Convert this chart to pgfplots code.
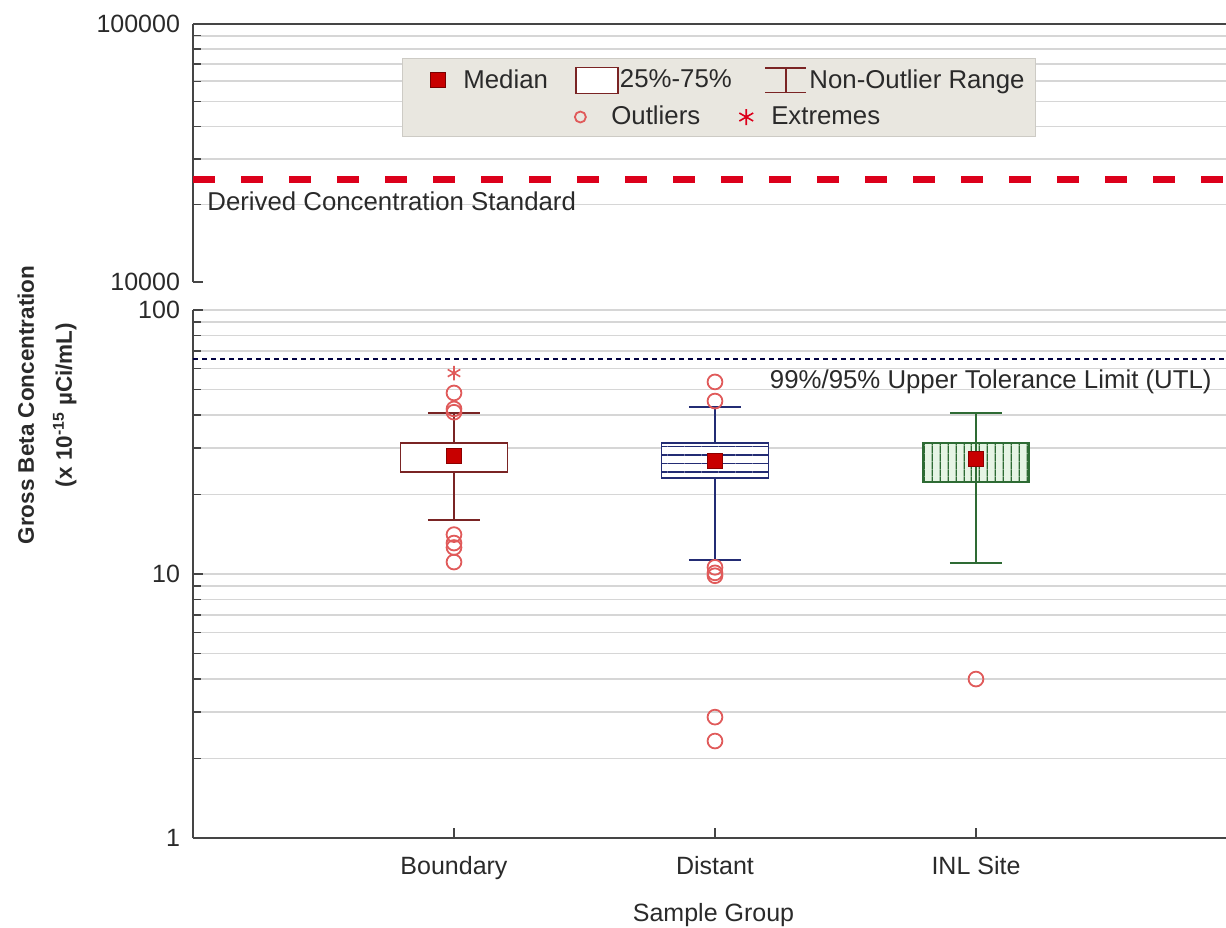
\documentclass[border=0pt]{standalone}
\usepackage{pgfplots}
\pgfplotsset{compat=1.18}
\usetikzlibrary{patterns.meta}
\usepackage{fontspec}
\setmainfont{Liberation Sans}
\definecolor{bnd}{HTML}{7A2424}
\definecolor{dst}{HTML}{232C74}
\definecolor{inl}{HTML}{2E6B34}
\definecolor{inlfill}{HTML}{E6F4E4}
\definecolor{outl}{HTML}{E05A5A}
\definecolor{med}{HTML}{C80000}
\definecolor{dcs}{HTML}{DC001B}
\definecolor{gridc}{HTML}{D6D6D6}
\definecolor{legbg}{HTML}{E9E7E0}
\definecolor{axc}{HTML}{454545}
\definecolor{txt}{HTML}{2A2A2A}
\pgfplotsset{
  myaxisstyle/.style={
    scale only axis, width=516.5pt,
    xmin=0, xmax=3.958,
    axis line style={line width=1.2pt, color=axc},
    tick align=inside, major tick length=5pt, minor tick length=4pt,
    tick style={axc, line width=0.7pt},
    grid style={gridc, line width=0.75pt},
    ticklabel style={font=\fontsize{12.5}{14}\selectfont, text=txt},
    /pgf/number format/assume math mode=true,
    yticklabel style={xshift=-3pt},
  },
  bx/.style={line width=0.8pt, forget plot},
}
\tikzset{bb/.style={use as bounding box, draw=none, fill=none}}
\begin{document}
\begin{tikzpicture}
\path[use as bounding box] (0,0) rectangle (613pt,463.5pt);

% upper axis (10000 .. 100000)
\begin{axis}[myaxisstyle, ymode=log,
  at={(96.5pt,322.5pt)}, anchor=south west, height=129pt,
  ymin=10000, ymax=100000,
  axis x line*=top, axis y line*=left,
  xtick=\empty,
  ytick={10000,100000}, yticklabels={10000,100000},
  minor ytick={20000,30000,40000,50000,60000,70000,80000,90000},
  yminorgrids,
  legend columns=3,
  legend style={at={(0.2023,0.8682)}, anchor=north west, fill=legbg, draw=legbg!88!black,
    font=\fontsize{12.9}{14}\selectfont, text=txt, inner xsep=0pt, inner ysep=4.5pt,
    nodes={inner sep=0pt}, row sep=4pt, column sep=1pt,
    /tikz/every even column/.append style={column sep=13pt}},
  legend cell align=left,
]
\addplot[dcs, line width=3.6pt, dash pattern=on 11pt off 13pt, forget plot] coordinates {(0,25000) (3.958,25000)};
\node[anchor=base west, inner sep=0pt, xshift=7pt, font=\fontsize{12.9}{14}\selectfont, text=txt] at (axis cs:0,19000) {Derived Concentration Standard};

\addlegendimage{legend image code/.code={\path[bb] (0pt,-6.5pt) rectangle (29.5pt,6.5pt);
  \filldraw[fill=med, draw=med!60!black, line width=0.4pt] (14pt,-3.75pt) rectangle (21.5pt,3.75pt);}}
\addlegendentry{Median}
\addlegendimage{legend image code/.code={\path[bb] (0pt,-6.5pt) rectangle (22pt,6.5pt);
  \draw[bnd, line width=0.7pt, fill=white] (1pt,-6.5pt) rectangle (22pt,6.5pt);}}
\addlegendentry{25\%-75\%\rule{2.8pt}{0pt}}
\addlegendimage{legend image code/.code={\path[bb] (0pt,-6.5pt) rectangle (22pt,6.5pt);
  \draw[bnd, line width=0.7pt] (1pt,6.2pt) -- (21.5pt,6.2pt) (11.25pt,6.2pt) -- (11.25pt,-6.2pt) (1pt,-6.2pt) -- (21.5pt,-6.2pt);}}
\addlegendentry{Non-Outlier Range\rule{5.5pt}{0pt}}
\addlegendimage{legend image code/.code={\path[bb] (0pt,-6.5pt) rectangle (1pt,6.5pt);}}
\addlegendentry{}
\addlegendimage{legend image code/.code={\path[bb] (0pt,-6.5pt) rectangle (1pt,6.5pt);}}
\addlegendentry{}
\addlegendimage{legend image code/.code={\path[bb] (0pt,-6.5pt) rectangle (1pt,6.5pt);}}
\addlegendentry{}
\end{axis}

% lower axis (1 .. 100)
\begin{axis}[myaxisstyle, ymode=log,
  at={(96.5pt,44.5pt)}, anchor=south west, height=264pt,
  ymin=1, ymax=100,
  axis x line*=bottom, axis y line*=left,
  xtick={1,2,3}, xticklabels={Boundary,Distant,INL Site},
  xticklabel style={yshift=-5.5pt},
  ytick={1,10,100}, yticklabels={1,10,100},
  minor ytick={2,3,4,5,6,7,8,9,20,30,40,50,60,70,80,90},
  ymajorgrids, yminorgrids,
  xlabel={Sample Group},
  xlabel style={at={(axis description cs:0.5,0)}, anchor=base, yshift=-41.5pt, xshift=2pt, font=\fontsize{12.5}{14}\selectfont, text=txt},
  legend columns=2,
  legend style={at={(0.3688,1.3655)}, anchor=west, fill=none, draw=none,
    font=\fontsize{12.9}{14}\selectfont, text=txt, inner xsep=0pt, inner ysep=0pt,
    nodes={inner sep=0pt}, column sep=1pt,
    /tikz/every even column/.append style={column sep=17pt}},
  legend cell align=left,
]
% UTL line
\addplot[color=black!75!blue, line width=0.6pt, dash pattern=on 2.5pt off 2pt, forget plot] coordinates {(0,65.2) (3.958,65.2)};

% Boundary
\addplot[bnd, bx] coordinates {(1,31.4) (1,40.7)};
\addplot[bnd, bx] coordinates {(1,24.3) (1,16.0)};
\addplot[bnd, bx] coordinates {(0.9,40.7) (1.1,40.7)};
\addplot[bnd, bx] coordinates {(0.9,16.0) (1.1,16.0)};
\addplot[bnd, bx, fill=white] coordinates {(0.795,24.3) (1.205,24.3) (1.205,31.4) (0.795,31.4)} -- cycle;
% Distant
\addplot[dst, bx] coordinates {(2,31.4) (2,42.9)};
\addplot[dst, bx] coordinates {(2,23.1) (2,11.3)};
\addplot[dst, bx] coordinates {(1.9,42.9) (2.1,42.9)};
\addplot[dst, bx] coordinates {(1.9,11.3) (2.1,11.3)};
\addplot[dst, bx, fill=white, postaction={pattern={Lines[angle=0, distance=4.25pt, line width=0.7pt, yshift=2.25pt]}, pattern color=dst}]
  coordinates {(1.795,23.1) (2.205,23.1) (2.205,31.4) (1.795,31.4)} -- cycle;
% INL Site
\addplot[inl, bx] coordinates {(3,22.3) (3,11.0)};
\addplot[inl, bx] coordinates {(2.9,40.7) (3.1,40.7)};
\addplot[inl, bx] coordinates {(2.9,11.0) (3.1,11.0)};
\addplot[inl, bx, fill=inlfill, postaction={pattern={Lines[angle=90, distance=3.85pt, line width=0.6pt, xshift=1.5pt]}, pattern color=inl}]
  coordinates {(2.797,22.3) (3.203,22.3) (3.203,31.4) (2.797,31.4)} -- cycle;
\addplot[inl, bx] coordinates {(3,22.3) (3,40.7)};

% outliers
\addplot[only marks, mark=o, mark size=3.7pt, outl, line width=0.9pt, forget plot] coordinates {
 (1,48.5) (1,42.2) (1,41.0) (1,14.1) (1,13.1) (1,12.6) (1,11.1)
 (2,53.4) (2,45.2) (2,10.6) (2,10.1) (2,9.85) (2,2.87) (2,2.33)
 (3,4.0)};
% extremes
\addplot[only marks, mark=asterisk, mark size=3.6pt, outl, line width=0.8pt, forget plot] coordinates {(1,57.7)};
% medians
\addplot[only marks, mark=square*, mark size=3.6pt, mark options={fill=med, draw=med!70!black, line width=0.5pt}, forget plot] coordinates {(1,28.0) (2,26.8) (3,27.3)};

\node[anchor=base east, inner sep=0pt, xshift=-7pt, font=\fontsize{12.9}{14}\selectfont, text=txt] at (axis cs:3.958,50.6) {99\%/95\% Upper Tolerance Limit (UTL)};

\addlegendimage{legend image code/.code={\path[bb] (0pt,-6.5pt) rectangle (17.5pt,6.5pt);
  \draw[outl, line width=0.9pt] (3pt,0pt) circle (2.75pt);}}
\addlegendentry{Outliers}
\addlegendimage{legend image code/.code={\path[bb] (0pt,-6.5pt) rectangle (17.5pt,6.5pt);
  \draw[dcs, line width=0.8pt] plot[mark=asterisk, mark size=4pt] coordinates {(6pt,0pt)};}}
\addlegendentry{Extremes}
\end{axis}

\node[rotate=90, align=center, font=\bfseries\fontsize{11.25}{19}\selectfont, text=txt] at (23.5pt,261pt)
  {Gross Beta Concentration\\(x 10\textsuperscript{-15} µCi/mL)};
\end{tikzpicture}
\end{document}
